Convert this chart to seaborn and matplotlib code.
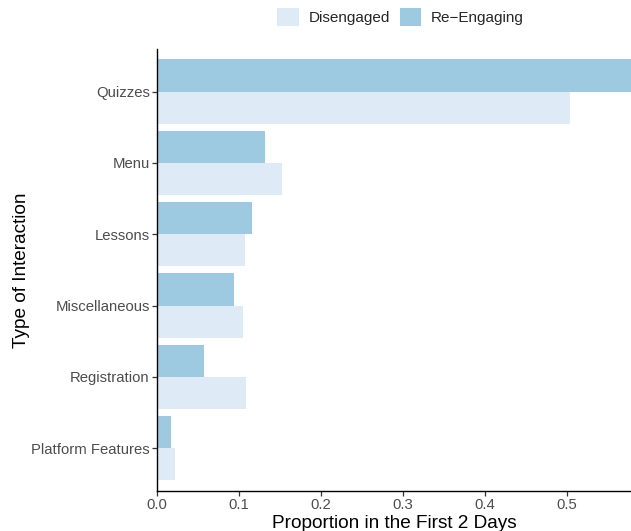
import matplotlib
matplotlib.use("Agg")
import matplotlib.pyplot as plt
from matplotlib.patches import Patch
import seaborn as sns
import pandas as pd

# Interaction types and per-group proportions in the first two days
categories = ["Quizzes", "Menu", "Lessons", "Miscellaneous", "Registration", "Platform Features"]
disengaged = [0.504, 0.152, 0.107, 0.105, 0.109, 0.022]
re_engaging = [0.578, 0.132, 0.116, 0.094, 0.057, 0.017]
groups = ["Disengaged", "Re\u2212Engaging"]
colors = {"Disengaged": "#deebf7", "Re\u2212Engaging": "#9ecae1"}
x_ticks = [0.0, 0.1, 0.2, 0.3, 0.4, 0.5]

df = pd.DataFrame({
    "Type": categories * 2,
    "Proportion": disengaged + re_engaging,
    "Group": [groups[0]] * len(categories) + [groups[1]] * len(categories),
})

sns.set_theme(style="ticks")
plt.rcParams["font.family"] = ["Liberation Sans", "DejaVu Sans"]

fig = plt.figure(figsize=(6.31, 5.31), dpi=100)
ax = fig.add_axes([157 / 631, 40 / 531, 1 - 157 / 631, (491 - 48.7) / 531])

sns.barplot(
    data=df, y="Type", x="Proportion", hue="Group",
    order=categories, hue_order=[groups[1], groups[0]],
    palette=colors, orient="h", width=0.9, saturation=1,
    linewidth=0, ax=ax, legend=False,
)

ax.set_xlim(0, 0.578)
ax.set_ylim(len(categories) - 0.4, -0.6)
ax.set_xticks(x_ticks)
ax.set_xticklabels([f"{t:.1f}" for t in x_ticks])
ax.tick_params(axis="both", colors="#333333", labelcolor="#4d4d4d",
               labelsize=10.7, length=3.5, width=0.9, pad=1.8)
for side in ("top", "right"):
    ax.spines[side].set_visible(False)
for side in ("left", "bottom"):
    ax.spines[side].set_color("black")
    ax.spines[side].set_linewidth(1.0)

ax.set_xlabel("Proportion in the First 2 Days", fontsize=13.7, color="black", labelpad=2)
ax.set_ylabel("Type of Interaction", fontsize=13.7, color="black", labelpad=0.5)

handles = [Patch(facecolor=colors[g], edgecolor="none", label=g) for g in groups]
fig.legend(handles=handles, loc="upper center", bbox_to_anchor=(0.635, 1.0),
           ncol=2, frameon=False, fontsize=11, handlelength=1.4, handleheight=1.4,
           handletextpad=0.65, columnspacing=0.65, borderaxespad=0.15)

fig.savefig("out.png", dpi=100)
